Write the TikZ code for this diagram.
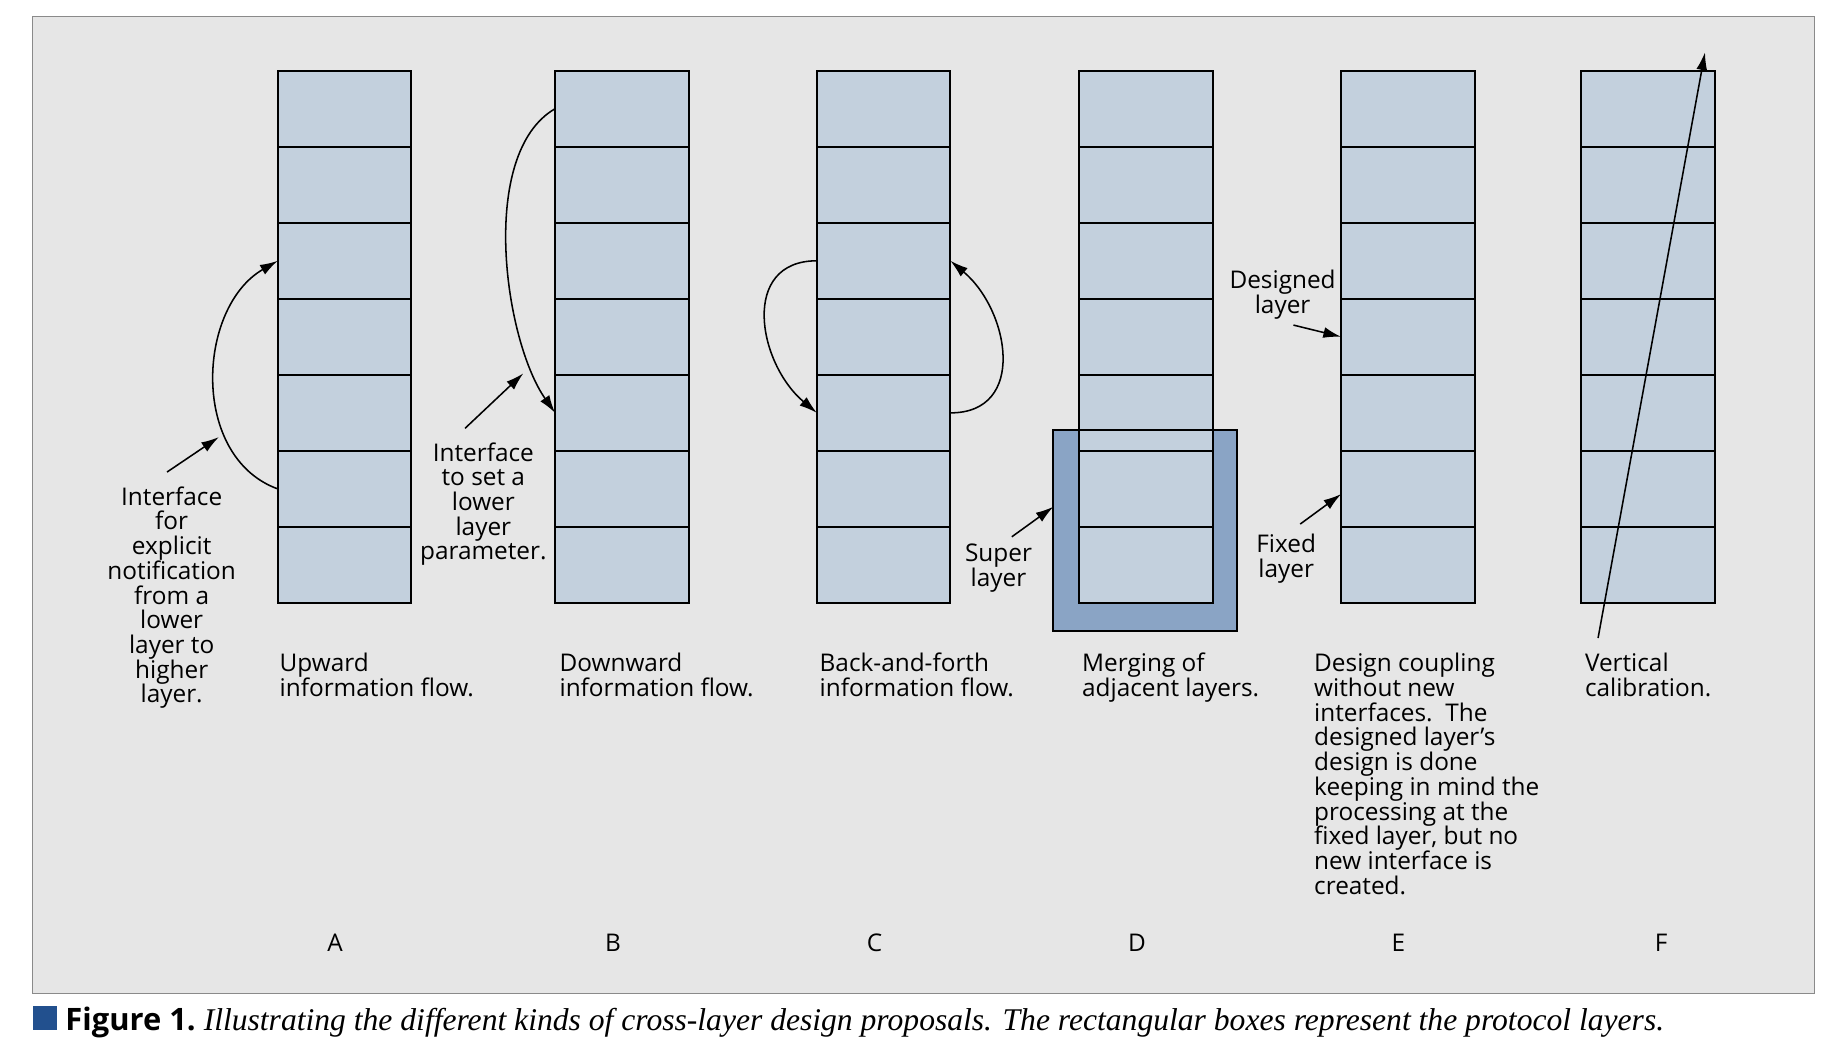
\documentclass[tikz,border=0pt]{standalone}
\usepackage{fontspec}
\setsansfont{Open Sans}
\newfontfamily\capserif{Liberation Serif}
\usetikzlibrary{arrows.meta,positioning}
\definecolor{bggray}{HTML}{E6E6E6}
\definecolor{framegray}{HTML}{8A8A8A}
\definecolor{layerblue}{HTML}{C3D0DD}
\definecolor{superblue}{HTML}{8AA4C5}
\definecolor{capblue}{HTML}{22508E}

\begin{document}
\begin{tikzpicture}[x=0.5pt, y=-0.5pt, node distance=32pt, >={Latex[length=7.5pt,width=4.6pt]},
  layer/.style={rectangle, draw, line width=0.8pt, fill=layerblue, minimum width=56.2pt, minimum height=32pt, inner sep=0pt, outer sep=0pt},
  superfill/.style={rectangle, fill=superblue, minimum width=77.2pt, minimum height=84.45pt, inner sep=0pt, outer sep=0pt},
  txt/.style={font=\sffamily\fontsize{10.25}{10.4}\selectfont, inner sep=0pt},
  note/.style={txt, align=center, anchor=base},
  desc/.style={txt, align=left, anchor=base west},
  flow/.style={->, line width=0.65pt}]

    \useasboundingbox (0,0) rectangle (1552,887);
    \filldraw[fill=bggray, draw=framegray, line width=0.45pt] (27.5,13.7) rectangle (1527,836);

    % super layer of D, behind the stack
    \node[superfill] (super) at (963.8,446.45) {};

    \foreach \s/\x in {A/290.0, B/523.4, C/743.7, D/964.4, E/1185.0, F/1386.9} {
      \node[layer] (\s1) at (\x,91.5) {};
      \foreach \i [evaluate=\i as \j using int(\i+1)] in {1,...,6}
        \node[layer, below of=\s\i] (\s\j) {};
    }
    \draw[line width=0.9pt] (super.north west) rectangle (super.south east);

    % base = last line
    \node[desc] (descA) at (235,586.2) {Upward\\information flow.};
    \node[desc] (descB) at (470.6,586.2) {Downward\\information flow.};
    \node[desc] (descC) at (689.5,586.2) {Back-and-forth\\information flow.};
    \node[desc] (descD) at (910.4,586.2) {Merging of\\adjacent layers.};
    \node[desc] (descE) at (1105.7,752.6) {Design coupling\\without new\\interfaces.\ \ The\\designed layer’s\\design is done\\keeping in mind the\\processing at the\\fixed layer, but no\\new interface is\\created.};
    \node[desc] (descF) at (1333.6,586.2) {Vertical\\calibration.};

    \node[txt, anchor=base] (labA) at (282,800.5) {A};
    \node[txt, anchor=base] (labB) at (516,800.5) {B};
    \node[txt, anchor=base] (labC) at (736,800.5) {C};
    \node[txt, anchor=base] (labD) at (957,800.5) {D};
    \node[txt, anchor=base] (labE) at (1177,800.5) {E};
    \node[txt, anchor=base] (labF) at (1398,800.5) {F};

    \node[note] (noteA) at (144.5,591.6) {Interface\\for\\explicit\\notification\\from a\\lower\\layer to\\higher\\layer.};
    \node[note] (noteB) at (406.8,471.2) {Interface\\to set a\\lower\\layer\\parameter.};
    \node[note] (noteD) at (840.4,493.8) {Super\\layer};
    \node[note] (designed) at (1079.5,263.8) {Designed\\layer};
    \node[note] (fixed) at (1082.5,485.8) {Fixed\\layer};

    \draw[flow] (A6.west) to[out=160, in=210, looseness=1.05] (A3.west);
    \draw[flow] (B1.west) to[out=210, in=125, looseness=0.75] (B5.west);
    \draw[flow] (C3.west) to[out=180, in=140, looseness=1.3] (C5.west);
    \draw[flow] (C5.east) to[out=0, in=-40, looseness=1.3] (C3.east);

    \node[coordinate] (tailA) at (140.6,397.3) {};
    \node[coordinate] (tipA) at (184.3,367.8) {};
    \node[coordinate] (tailB) at (391.4,360.5) {};
    \node[coordinate] (tipB) at (440.5,314.2) {};
    \node[coordinate] (tailD) at (851.6,451.8) {};
    \node[coordinate] (tailE1) at (1088.6,273.6) {};
    \node[coordinate] (tailE2) at (1094.3,441.1) {};
    \node[coordinate] (calbot) at (1345,537) {};
    \node[coordinate] (caltop) at (1435,44) {};

    \draw[flow] (tailA) -- (tipA);
    \draw[flow] (tailB) -- (tipB);
    \draw[flow] (tailD) -- (super.west |- 0,426.5);
    \draw[flow] (tailE1) -- (E4.west);
    \draw[flow] (tailE2) -- (E6.north west |- 0,415.8);
    \draw[flow] (calbot) -- (caltop);

    \node[fill=capblue, minimum width=9.8pt, minimum height=10.25pt, inner sep=0pt] (capmark) at (37.9,856.7) {};
    \node[anchor=base west, inner sep=0pt] (caption) at (54.7,867) {\sffamily\bfseries\fontsize{13}{15}\selectfont Figure 1.\ \capserif\mdseries\itshape\fontsize{13.3}{15}\selectfont Illustrating the different kinds of cross-layer design proposals. The rectangular boxes represent the protocol layers.};
\end{tikzpicture}
\end{document}
